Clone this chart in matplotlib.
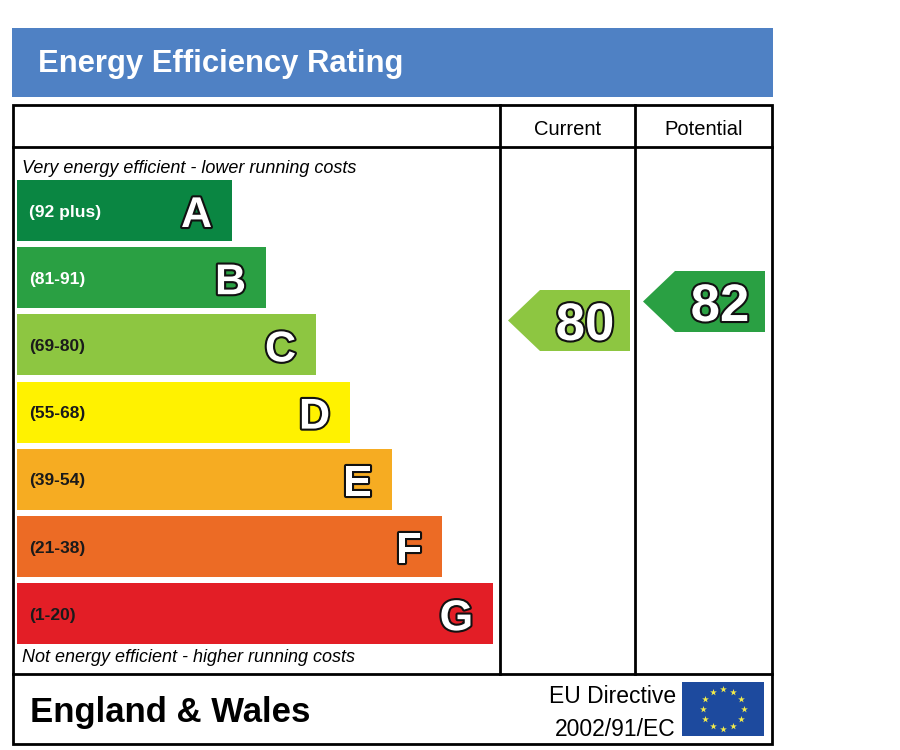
import matplotlib
matplotlib.use("Agg")
import matplotlib.pyplot as plt
import matplotlib.patheffects as pe
from matplotlib.patches import Rectangle, Polygon
import numpy as np

plt.rcParams['font.family'] = ['Liberation Sans', 'DejaVu Sans']

# data
title = "Energy Efficiency Rating"
bands = ['A', 'B', 'C', 'D', 'E', 'F', 'G']
band_ranges = ['(92 plus)', '(81-91)', '(69-80)', '(55-68)', '(39-54)', '(21-38)', '(1-20)']
band_min = [92, 81, 69, 55, 39, 21, 1]
band_colors = ['#0A8642', '#2AA043', '#8DC641', '#FFF200', '#F6AC22', '#EC6B25', '#E31E26']
range_colors = ['white', 'white', '#1a1a1a', '#1a1a1a', '#1a1a1a', '#1a1a1a', '#1a1a1a']
columns = ['Current', 'Potential']
scores = [80, 82]

# layout (pixels, figure is 900x750)
bar_left = 17
bar_top0 = 180
bar_step = 67.2
bar_h = 61
bar_right = [232, 266, 316, 350, 392, 442, 493]
col_x = [500, 635, 773]
arrow_pad = 8
head = 32


def score_to_y(s):
    # centre of the pointer arrow for a given score
    return 1080.5 - 9.5 * s


def band_of(s):
    for i, m in enumerate(band_min):
        if s >= m:
            return i
    return len(band_min) - 1


fig = plt.figure(figsize=(9, 7.5), dpi=100)
ax = fig.add_axes([0, 0, 1, 1])
ax.set_xlim(0, 900)
ax.set_ylim(750, 0)
ax.axis('off')

outline = [pe.Stroke(linewidth=3, foreground='#111111'), pe.Normal()]

# header
ax.add_patch(Rectangle((12, 28), 761, 69, color='#4F81C4', lw=0))
ax.text(38, 72, title, fontsize=22.3, weight='bold', color='white', va='baseline')

# frame
lw = 2.0
ax.add_patch(Rectangle((13, 105), 759, 639, fill=False, ec='black', lw=lw))
ax.plot([13, 772], [147, 147], color='black', lw=lw)
ax.plot([13, 772], [674, 674], color='black', lw=lw)
for x in col_x[:2]:
    ax.plot([x, x], [105, 674], color='black', lw=lw)

for i, c in enumerate(columns):
    ax.text((col_x[i] + col_x[i + 1]) / 2, 135, c, fontsize=14.5, ha='center', va='baseline')

ax.text(22, 173, "Very energy efficient - lower running costs", fontsize=13, style='italic', va='baseline')
ax.text(22, 662, "Not energy efficient - higher running costs", fontsize=13, style='italic', va='baseline')

# bands
for i, b in enumerate(bands):
    top = bar_top0 + i * bar_step
    cy = top + bar_h / 2
    ax.add_patch(Rectangle((bar_left, top), bar_right[i] - bar_left, bar_h, color=band_colors[i], lw=0))
    ax.text(29, cy + 6, band_ranges[i], fontsize=12.5, weight='bold', color=range_colors[i], va='baseline')
    t = ax.text(bar_right[i] - 20, cy + 16.5, b, fontsize=31, weight='bold', color='white',
                ha='right', va='baseline')
    t.set_path_effects(outline)

# score arrows
for i, s in enumerate(scores):
    x0 = col_x[i] + arrow_pad
    x1 = col_x[i + 1] - 5 - 3 * i
    cy = score_to_y(s)
    pts = [(x0, cy), (x0 + head, cy - bar_h / 2), (x1, cy - bar_h / 2),
           (x1, cy + bar_h / 2), (x0 + head, cy + bar_h / 2)]
    ax.add_patch(Polygon(pts, closed=True, color=band_colors[band_of(s)], lw=0))
    t = ax.text((x0 + head + x1) / 2, cy + 19.5, str(s), fontsize=38, weight='bold', color='white',
                ha='center', va='baseline')
    t.set_path_effects(outline)

# footer
ax.text(30, 722, "England & Wales", fontsize=25, weight='bold', va='baseline')
ax.text(676, 703, "EU Directive", fontsize=16.5, ha='right', va='baseline')
ax.text(676, 736, "2002/91/EC", fontsize=16.5, ha='right', va='baseline')

# EU flag
ax.add_patch(Rectangle((682, 682), 82, 54, color='#1D4A9E', lw=0))
ang = np.linspace(0, 2 * np.pi, 12, endpoint=False)
ax.scatter(723 + 20.5 * np.cos(ang), 709 + 20 * np.sin(ang), marker='*', s=26,
           color='#F4EC4A', lw=0, zorder=5)

fig.savefig('out.png', dpi=100)
